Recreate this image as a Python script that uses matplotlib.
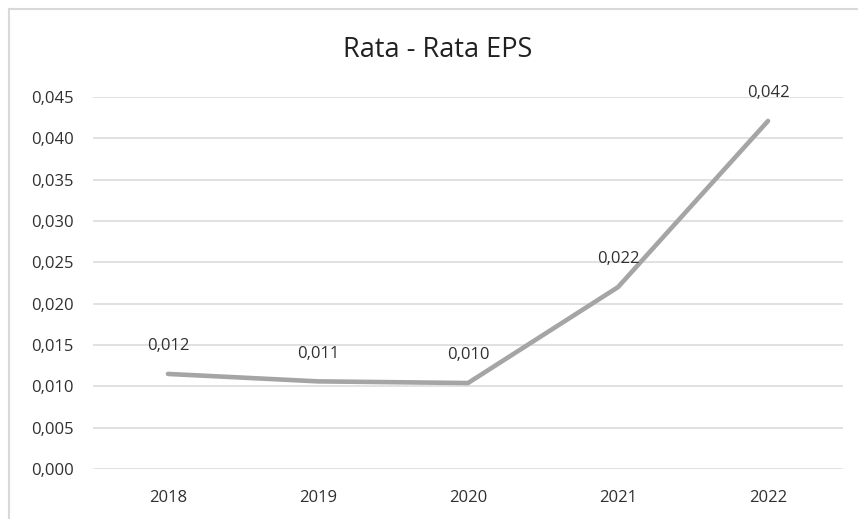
import matplotlib
matplotlib.use("Agg")
from matplotlib import pyplot as plt
from matplotlib.lines import Line2D
from matplotlib.ticker import FuncFormatter

years = ["2018", "2019", "2020", "2021", "2022"]
eps = [0.0115, 0.0106, 0.0104, 0.0220, 0.0421]
eps_labels = ["0,012", "0,011", "0,010", "0,022", "0,042"]
yticks = [0.000, 0.005, 0.010, 0.015, 0.020, 0.025, 0.030, 0.035, 0.040, 0.045]

plt.rcParams["font.family"] = ["Open Sans", "DejaVu Sans"]
textcol = "#303030"

fig = plt.figure(figsize=(8.58, 5.19), dpi=100)
ax = fig.add_axes([93/858, 1-469/519, 750/858, 372/519])

x = list(range(len(years)))
ax.plot(x, eps, color="#A5A5A5", linewidth=3.3, solid_capstyle="round", zorder=3)

for xi, yi, lab in zip(x, eps, eps_labels):
    ax.annotate(lab, (xi, yi), xytext=(0, 20), textcoords="offset points",
                ha="center", va="center", fontsize=12, color=textcol, zorder=4)

ax.set_xlim(-0.5, len(years) - 0.5)
ax.set_ylim(0, 0.045)
ax.set_xticks(x)
ax.set_xticklabels(years)
ax.set_yticks(yticks)
ax.yaxis.set_major_formatter(FuncFormatter(lambda v, p: f"{v:.3f}".replace(".", ",")))
ax.tick_params(axis="both", length=0, labelsize=12, labelcolor=textcol)
ax.tick_params(axis="y", pad=14)
ax.tick_params(axis="x", pad=15)
ax.grid(axis="y", color="#D9D9D9", linewidth=1.1)
ax.set_axisbelow(True)
for s in ax.spines.values():
    s.set_visible(False)

fig.text(438/858, 1-50/519, "Rata - Rata EPS", ha="center", va="center",
         fontsize=19.5, color="#202020")

# outer chart frame (only left and top edges show)
fx, fy = 9/858, 1-9/519
fig.add_artist(Line2D([fx, fx], [0, fy], transform=fig.transFigure,
                      color="#D9D9D9", linewidth=1.5))
fig.add_artist(Line2D([fx, 1], [fy, fy], transform=fig.transFigure,
                      color="#D9D9D9", linewidth=1.5))

fig.savefig("out.png", dpi=100)
